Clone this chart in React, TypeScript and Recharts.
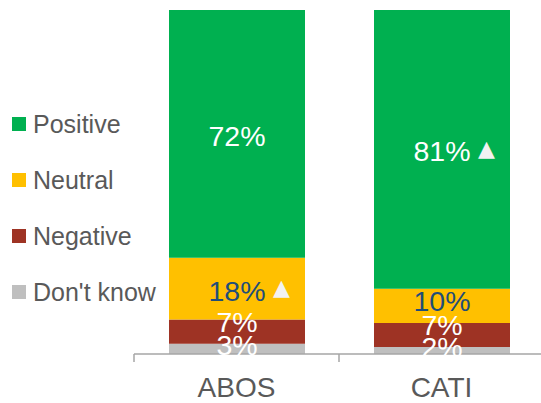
import React from 'react';
import { BarChart, Bar, XAxis, YAxis, Legend, LabelList } from 'recharts';

const categories = ['ABOS', 'CATI'];
const positive = [72, 81];
const neutral = [18, 10];
const negative = [7, 7];
const dontKnow = [3, 2];
const positiveSig = [false, true];
const neutralSig = [true, false];

const seriesNames = ['Positive', 'Neutral', 'Negative', "Don't know"];
const seriesColors = ['#00B050', '#FFC000', '#9E3324', '#BFBFBF'];

const data = categories.map((c, i) => ({
  name: c,
  positive: positive[i],
  neutral: neutral[i],
  negative: negative[i],
  dontKnow: dontKnow[i],
}));

const CHART_W = 544;
const CHART_H = 403;
const M_LEFT = 134;
const M_RIGHT = 0;
const HALF_BAND = (CHART_W - M_LEFT - M_RIGHT) / categories.length / 2;
const FONT = '"Liberation Sans", Arial, sans-serif';

const makeLabel = (color: string, sig: boolean[]) => (props: any) => {
  const { x, y, width, height, value, index } = props;
  const cx = x + width / 2;
  let cy = y + height / 2;
  if (height < 15) cy -= 4;
  else if (height < 30) cy -= 10;
  else if (height < 40) cy -= 5;
  else cy += 2;
  return (
    <g>
      <text x={cx} y={cy} fill={color} fontSize={28.5} fontFamily={FONT} textAnchor="middle" dominantBaseline="central">
        {`${value}%`}
      </text>
      {sig[index] ? (
        <text x={cx + 36} y={cy - 3} fill="#F2F2F2" fontSize={22} fontFamily='"DejaVu Sans", sans-serif' textAnchor="start" dominantBaseline="central">
          ▲
        </text>
      ) : null}
    </g>
  );
};

const noSig = [false, false];

const Tick = (props: any) => {
  const { x, y, payload, index } = props;
  return (
    <g>
      <line x1={x - HALF_BAND} y1={y} x2={x - HALF_BAND} y2={y + 8} stroke="#A6A6A6" strokeWidth={1.5} />
      {index === categories.length - 1 ? (
        <line x1={x + HALF_BAND} y1={y} x2={x + HALF_BAND} y2={y + 8} stroke="#A6A6A6" strokeWidth={1.5} />
      ) : null}
      <text x={x} y={y + 43} fill="#595959" fontSize={28} fontFamily={FONT} textAnchor="middle">
        {payload.value}
      </text>
    </g>
  );
};

const LegendContent = () => (
  <div style={{ display: 'flex', flexDirection: 'column' }}>
    {seriesNames.map((n, i) => (
      <div key={n} style={{ height: 56, display: 'flex', alignItems: 'center' }}>
        <div style={{ width: 14, height: 14, background: seriesColors[i], marginRight: 7 }} />
        <span style={{ fontSize: 25, fontFamily: FONT, color: '#595959', whiteSpace: 'nowrap' }}>{n}</span>
      </div>
    ))}
  </div>
);

export default function App() {
  return (
    <div style={{ position: 'absolute', left: 0, top: 0, width: 541, height: 403, overflow: 'hidden', background: '#fff' }}>
      <BarChart width={CHART_W} height={CHART_H} data={data} margin={{ top: 10, right: M_RIGHT, bottom: 0, left: M_LEFT }}>
        <XAxis
          dataKey="name"
          height={49}
          axisLine={{ stroke: '#A6A6A6', strokeWidth: 1.5 }}
          tickLine={false}
          tickSize={0}
          tickMargin={0}
          tick={<Tick />}
          interval={0}
        />
        <YAxis hide domain={[0, 100]} type="number" />
        <Legend
          layout="horizontal"
          verticalAlign="middle"
          align="center"
          content={<LegendContent />}
          wrapperStyle={{ left: 12, top: 96, width: 160 }}
        />
        <Bar dataKey="dontKnow" stackId="a" fill={seriesColors[3]} barSize={136} isAnimationActive={false}>
          <LabelList dataKey="dontKnow" content={makeLabel('#FFFFFF', noSig)} />
        </Bar>
        <Bar dataKey="negative" stackId="a" fill={seriesColors[2]} barSize={136} isAnimationActive={false}>
          <LabelList dataKey="negative" content={makeLabel('#FFFFFF', noSig)} />
        </Bar>
        <Bar dataKey="neutral" stackId="a" fill={seriesColors[1]} barSize={136} isAnimationActive={false}>
          <LabelList dataKey="neutral" content={makeLabel('#1F4E79', neutralSig)} />
        </Bar>
        <Bar dataKey="positive" stackId="a" fill={seriesColors[0]} barSize={136} isAnimationActive={false}>
          <LabelList dataKey="positive" content={makeLabel('#FFFFFF', positiveSig)} />
        </Bar>
      </BarChart>
    </div>
  );
}
